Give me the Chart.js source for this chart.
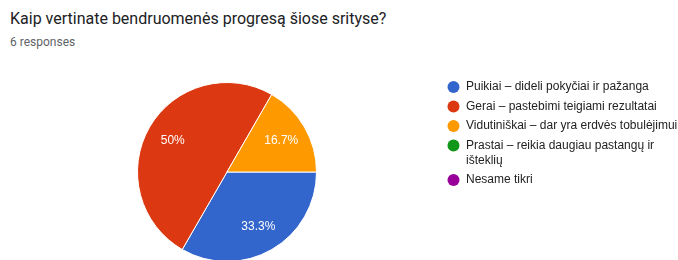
<!DOCTYPE html>
<html>
<head>
<meta charset="utf-8">
<script src="https://cdn.jsdelivr.net/npm/chart.js@4"></script>
<style>
  html, body { margin: 0; padding: 0; background: #fff; overflow: hidden; width: 678px; height: 260px; }
  #wrap { position: relative; width: 678px; height: 260px; }
  #title { position: absolute; left: 10px; top: 9px; font: 16px Roboto, sans-serif; color: #202124; white-space: nowrap; }
  #sub { position: absolute; left: 10px; top: 35px; font: 12px Roboto, sans-serif; color: #5f6368; white-space: nowrap; }
  canvas { position: absolute; left: 0; top: 0; }
</style>
</head>
<body>
<div id="wrap">
  <div id="title">Kaip vertinate bendruomenės progresą šiose srityse?</div>
  <div id="sub">6 responses</div>
  <canvas id="pie" width="678" height="290"></canvas>
</div>
<script>
// answers and counts (6 responses)
const answers = [
    'Puikiai – dideli pokyčiai ir pažanga',
    'Gerai – pastebimi teigiami rezultatai',
    'Vidutiniškai – dar yra erdvės tobulėjimui',
    'Prastai – reikia daugiau pastangų ir išteklių',
    'Nesame tikri'
];
const counts = [2, 3, 1, 0, 0];
const colors = ['#3366cc', '#dc3912', '#ff9900', '#109618', '#990099'];

// percent labels inside the slices
const sliceLabels = {
    id: 'sliceLabels',
    afterDatasetsDraw(chart) {
        const ctx = chart.ctx;
        const data = chart.data.datasets[0].data;
        const total = data.reduce((a, b) => a + b, 0);
        chart.getDatasetMeta(0).data.forEach((arc, i) => {
            if (!data[i]) return;
            const p = arc.getProps(['x', 'y', 'startAngle', 'endAngle', 'outerRadius'], true);
            const mid = (p.startAngle + p.endAngle) / 2;
            const r = p.outerRadius * 0.7;
            let pct = Math.round(data[i] / total * 1000) / 10;
            ctx.save();
            ctx.fillStyle = '#fff';
            ctx.font = '12px Arial, "Liberation Sans", sans-serif';
            ctx.textAlign = 'center';
            ctx.textBaseline = 'middle';
            ctx.fillText(pct + '%', p.x + Math.cos(mid) * r, p.y + Math.sin(mid) * r);
            ctx.restore();
        });
    }
};

// google forms style legend with wrapping
const sideLegend = {
    id: 'sideLegend',
    afterDraw(chart) {
        const ctx = chart.ctx;
        const bg = chart.data.datasets[0].backgroundColor;
        const maxW = 220;
        let y = 87;
        ctx.save();
        ctx.font = '12px Arial, "Liberation Sans", sans-serif';
        ctx.textBaseline = 'middle';
        chart.data.labels.forEach((label, i) => {
            // wrap words
            const words = label.split(' ');
            const lines = [];
            let line = '';
            words.forEach(w => {
                const test = line ? line + ' ' + w : w;
                if (ctx.measureText(test).width > maxW && line) {
                    lines.push(line);
                    line = w;
                } else {
                    line = test;
                }
            });
            lines.push(line);
            ctx.fillStyle = bg[i];
            ctx.beginPath();
            ctx.arc(453.5, y, 6, 0, Math.PI * 2);
            ctx.fill();
            ctx.fillStyle = '#222';
            lines.forEach((l, j) => ctx.fillText(l, 466, y + j * 15));
            y += (lines.length - 1) * 15 + 19.5;
        });
        ctx.restore();
    }
};

new Chart(document.getElementById('pie'), {
    type: 'pie',
    data: {
        labels: answers,
        datasets: [{
            data: counts,
            backgroundColor: colors,
            borderColor: '#fff',
            borderWidth: 1
        }]
    },
    options: {
        responsive: false,
        animation: false,
        rotation: 90,
        layout: { padding: { left: 137, right: 361, top: 82, bottom: 28 } },
        plugins: {
            legend: { display: false },
            tooltip: { enabled: false }
        }
    },
    plugins: [sliceLabels, sideLegend]
});
</script>
</body>
</html>
